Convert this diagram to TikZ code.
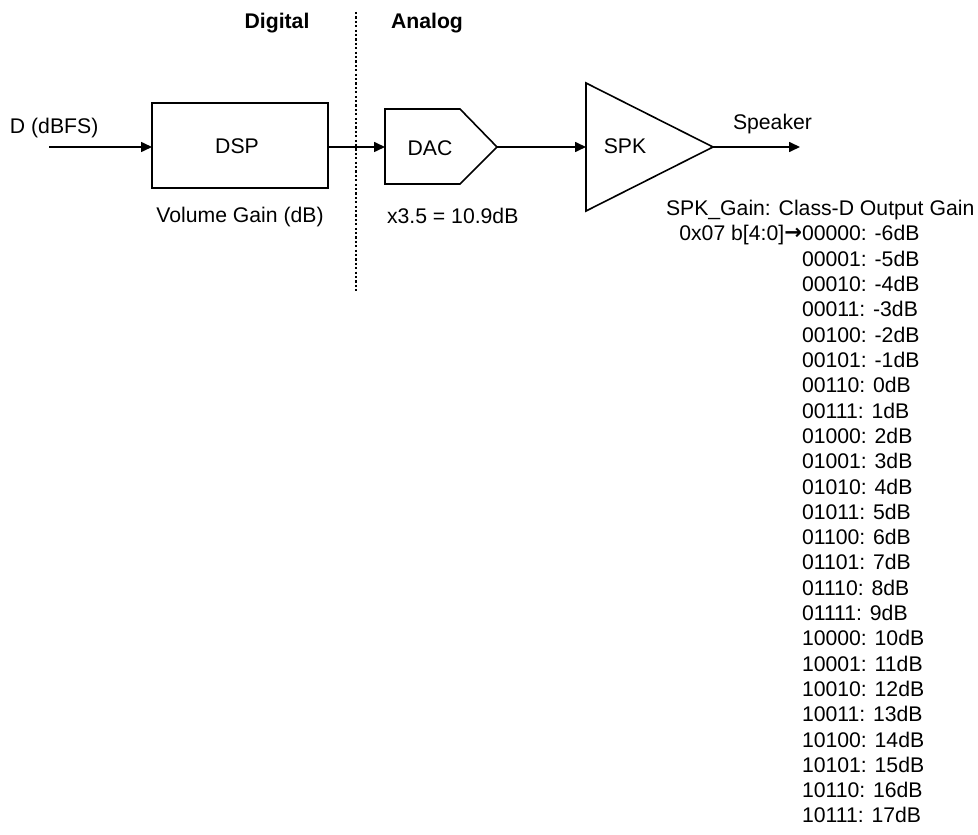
\documentclass[tikz,border=0pt]{standalone}
\usepackage{fontspec}
\setmainfont{Liberation Sans}
\newfontfamily\arrowfont{DejaVu Sans}
\usetikzlibrary{arrows.meta}
\begin{document}
\begin{tikzpicture}[x=0.5pt,y=-0.5pt,
  every node/.style={font=\fontsize{10.6}{12.7}\selectfont, inner sep=0pt, outer sep=0pt},
  lbl/.style={anchor=base},
  lblw/.style={anchor=base west},
  head/.style={anchor=base, font=\fontsize{10.6}{12.7}\selectfont\bfseries},
  blk/.style={draw, line width=0.8pt},
  conn/.style={line width=0.8pt, -{Triangle[length=5.5pt,width=5pt]}},
  divider/.style={line width=1pt, dash pattern=on 1.1pt off 1.1pt}
]
\useasboundingbox (0,0) rectangle (978,834);

% headings and divider
\node[head] (digital) at (277,29) {Digital};
\node[head] (analog) at (427,29) {Analog};
\coordinate (divtop) at (355.5,12);
\coordinate (divbot) at (355.5,291);
\draw[divider] (divtop) -- (divbot);

% input
\node[lblw] (dlabel) at (10,134) {D (dBFS)};
\coordinate (in) at (49,147);

% DSP
\node[blk, minimum width=88pt, minimum height=42.5pt] (dsp) at (240,145.5) {};
\node[lbl] (dsptext) at (237,154) {DSP};
\node[lbl] (volgain) at (240,222) {Volume Gain (dB)};

% DAC
\coordinate (dacW) at (385,147);
\coordinate (dacE) at (497,147);
\draw[blk, line join=miter] (385,109) -- (460,109) -- (dacE) -- (460,184) -- (385,184) -- cycle;
\node[lbl] (dactext) at (430,156) {DAC};
\node[lblw] (dacgain) at (387,223) {x3.5 = 10.9dB};

% SPK amplifier
\coordinate (spkW) at (586,147);
\coordinate (spkE) at (713,147);
\draw[blk, line join=miter] (586,83) -- (spkE) -- (586,211) -- cycle;
\node[lbl] (spktext) at (625,154) {SPK};

% output
\coordinate (out) at (800,147);
\node[lblw] (speaker) at (733,130) {Speaker};

% connectors
\draw[conn] (in) -- (dsp.west |- in);
\draw[conn] (dsp.east |- dacW) -- (dacW);
\draw[conn] (dacE) -- (spkW);
\draw[conn] (spkE) -- (out);

% gain table
\node[lblw] (gaintitle) at (666,215) {SPK\_Gain: Class-D Output Gain};
\node[lblw] (g0) at (802,241) {\llap{0x07 b[4:0]{\arrowfont\bfseries\raisebox{0.6pt}{→}}}00000: -6dB};
\foreach \i/\t in {1/00001: -5dB, 2/00010: -4dB, 3/00011: -3dB, 4/00100: -2dB,
  5/00101: -1dB, 6/00110: 0dB, 7/00111: 1dB, 8/01000: 2dB, 9/01001: 3dB,
  10/01010: 4dB, 11/01011: 5dB, 12/01100: 6dB, 13/01101: 7dB, 14/01110: 8dB,
  15/01111: 9dB, 16/10000: 10dB, 17/10001: 11dB, 18/10010: 12dB, 19/10011: 13dB,
  20/10100: 14dB, 21/10101: 15dB, 22/10110: 16dB, 23/10111: 17dB}
  \node[lblw] (g\i) at (802,{241+25.3*\i}) {\t};
\end{tikzpicture}
\end{document}
